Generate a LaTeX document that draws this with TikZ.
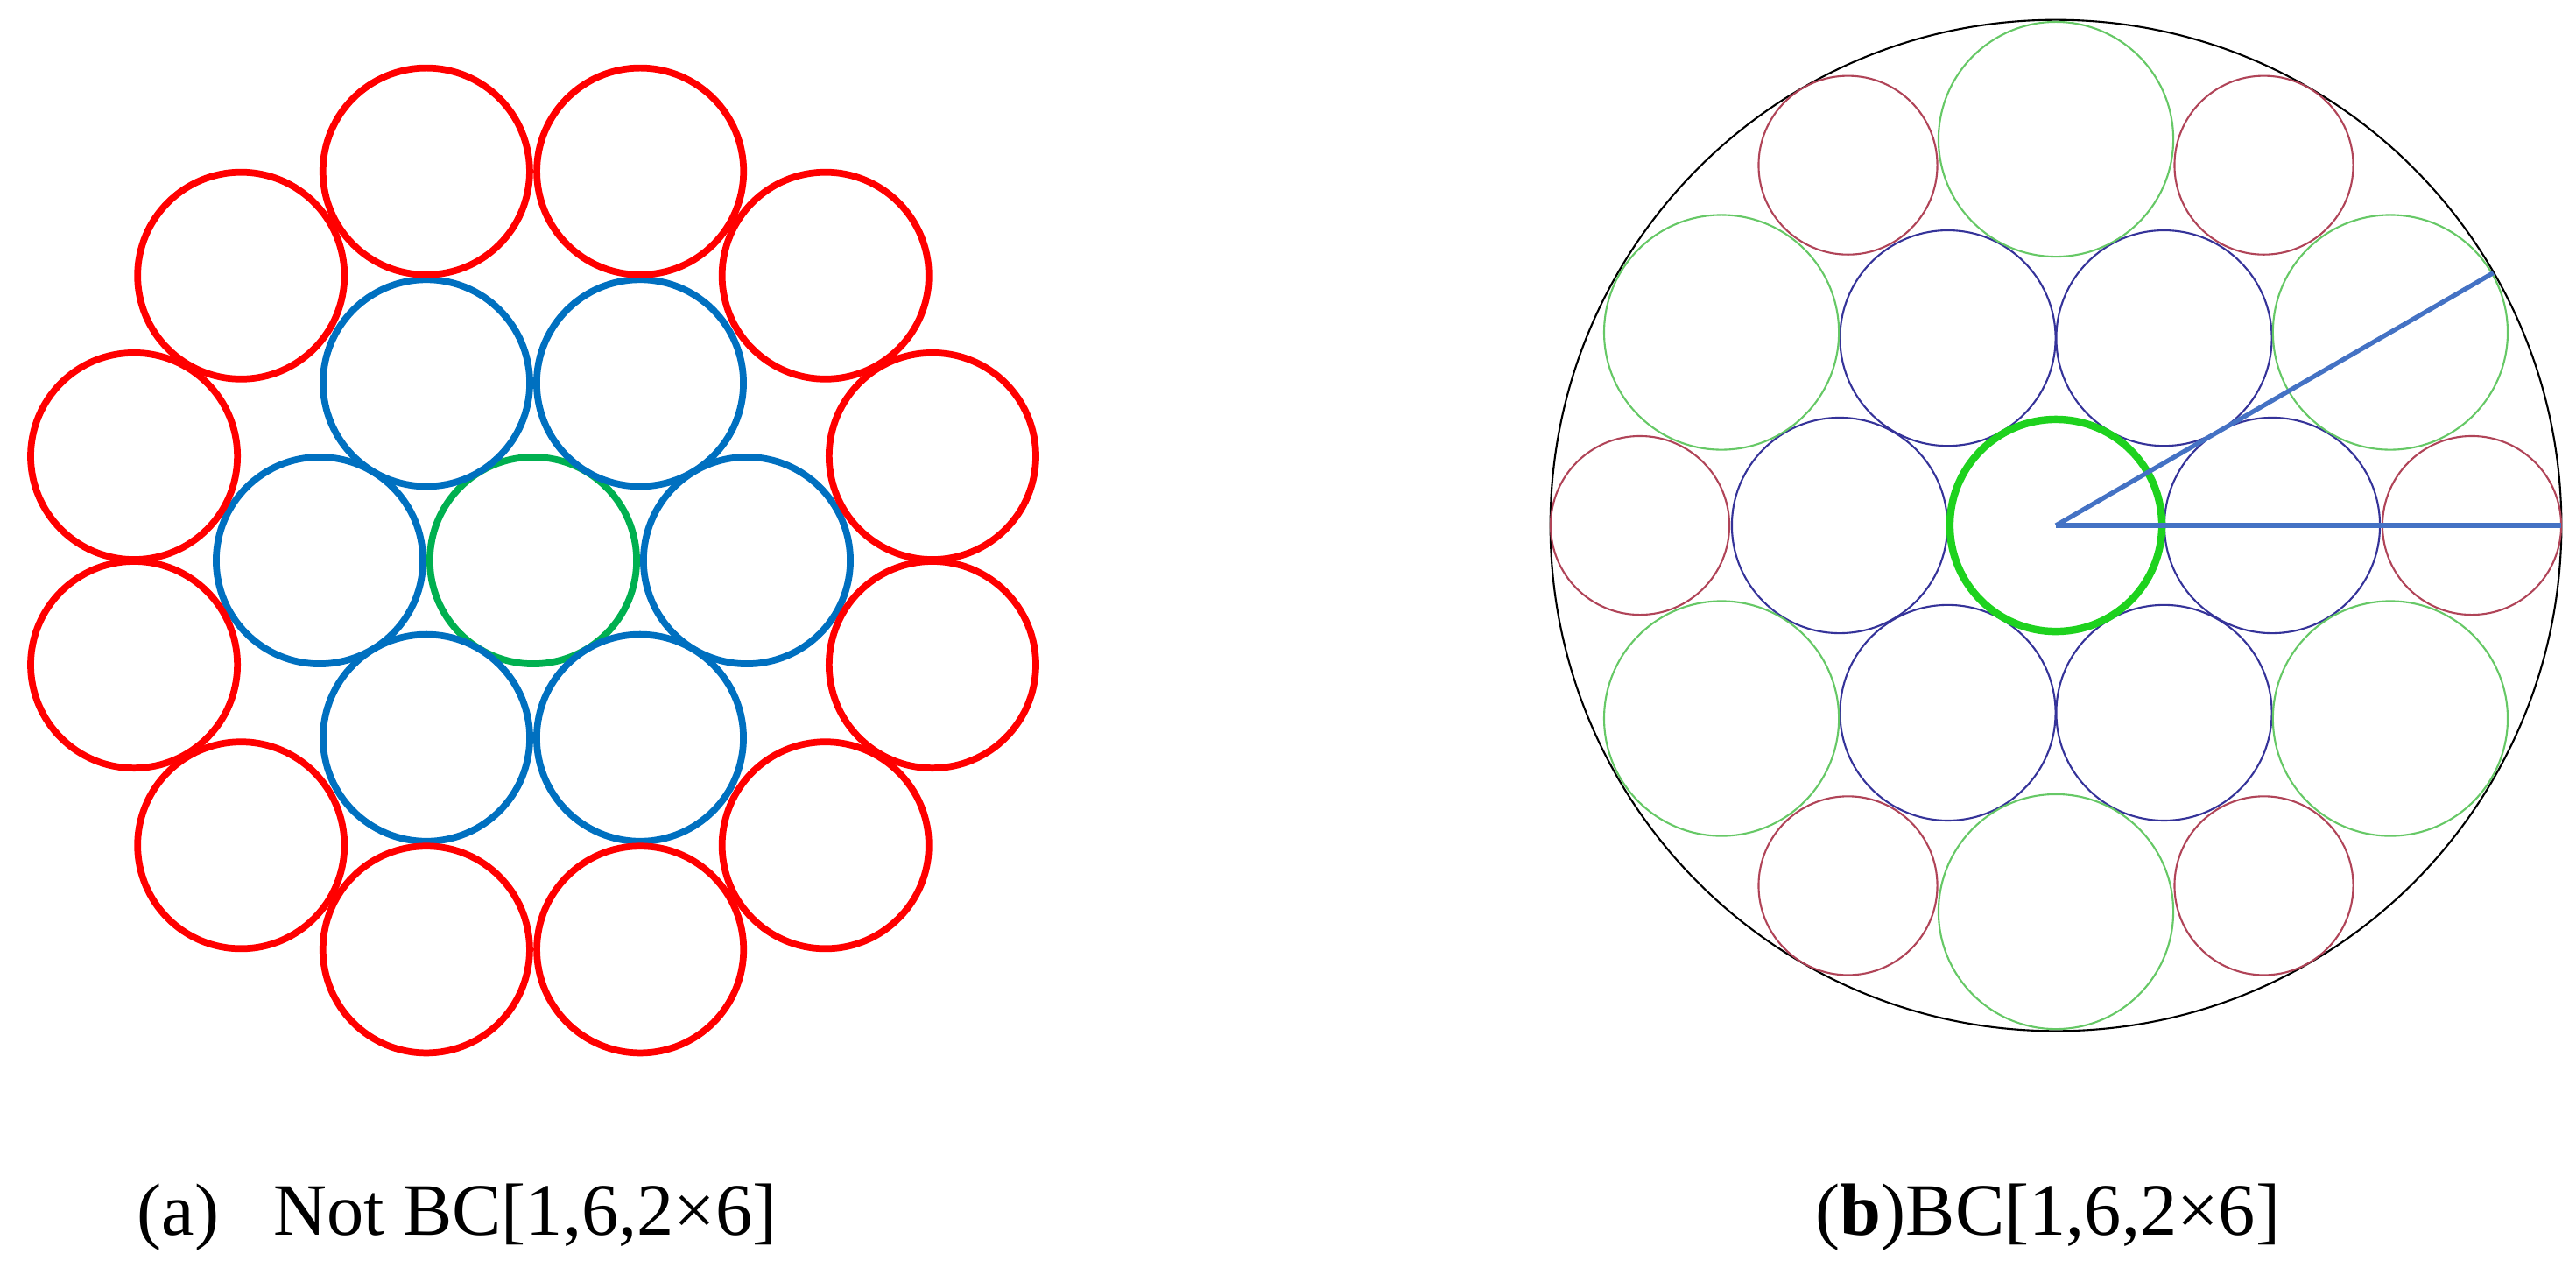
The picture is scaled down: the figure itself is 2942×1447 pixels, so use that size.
\documentclass[tikz,border=0pt]{standalone}
\usepackage{fontspec}
\setmainfont{Liberation Serif}
\definecolor{ared}{HTML}{FF0000}
\definecolor{ablue}{HTML}{0070C0}
\definecolor{agreen}{HTML}{00B050}
\definecolor{bblue}{HTML}{353399}
\definecolor{bred}{HTML}{B04458}
\definecolor{bgreen}{HTML}{66C866}
\definecolor{bcore}{HTML}{1ED21E}
\definecolor{bline}{HTML}{4472C4}
\begin{document}
\begin{tikzpicture}[x=0.01cm,y=-0.01cm,
  acirc/.style={line width=2.2pt},
  bthin/.style={line width=0.6pt},
  radline/.style={bline,line width=1.5pt},
  lbl/.style={inner sep=0pt,font=\fontsize{24pt}{28pt}\selectfont}]
\useasboundingbox (0,0) rectangle (2942,1447);
% ---------- (a) ----------
\coordinate (A) at (609,640);
\draw[acirc,agreen] (A) circle[radius=1.18cm];
\foreach \a in {0,60,...,300}
  \draw[acirc,ablue] ({609+244*cos(\a)},{640-234*sin(\a)}) circle[radius=1.18cm];
\foreach \a in {15,45,...,345}
  \draw[acirc,ared] ({609+472*cos(\a)},{640-460*sin(\a)}) circle[radius=1.18cm];
% ---------- (b) ----------
\coordinate (B) at (2348,600);
\draw[bthin,black] (B) circle[radius=5.77cm];
\foreach \a in {0,60,...,300}
  \draw[bthin,bblue] ({2348+247*cos(\a)},{600-247*sin(\a)}) circle[radius=1.23cm];
\foreach \a in {30,90,...,330}
  \draw[bthin,bgreen] ({2348+441*cos(\a)},{600-441*sin(\a)}) circle[radius=1.34cm];
\foreach \a in {0,60,...,300}
  \draw[bthin,bred] ({2348+475*cos(\a)},{600-475*sin(\a)}) circle[radius=1.02cm];
\draw[line width=2.4pt,bcore] (B) circle[radius=1.21cm];
\coordinate (E0) at (2925,600);
\coordinate (E30) at ({2348+577*cos(30)},{600-577*sin(30)});
\draw[radline] (B) -- (E0);
\draw[radline] (B) -- (E30);
% ---------- labels ----------
\node[lbl,anchor=base west] (la) at (156,1410) {(a)\hspace{0.62cm}Not BC[1,6,2×6]};
\node[lbl,anchor=base west] (lb) at (2073,1410) {(\textbf{b})BC[1,6,2×6]};
\end{tikzpicture}
\end{document}
